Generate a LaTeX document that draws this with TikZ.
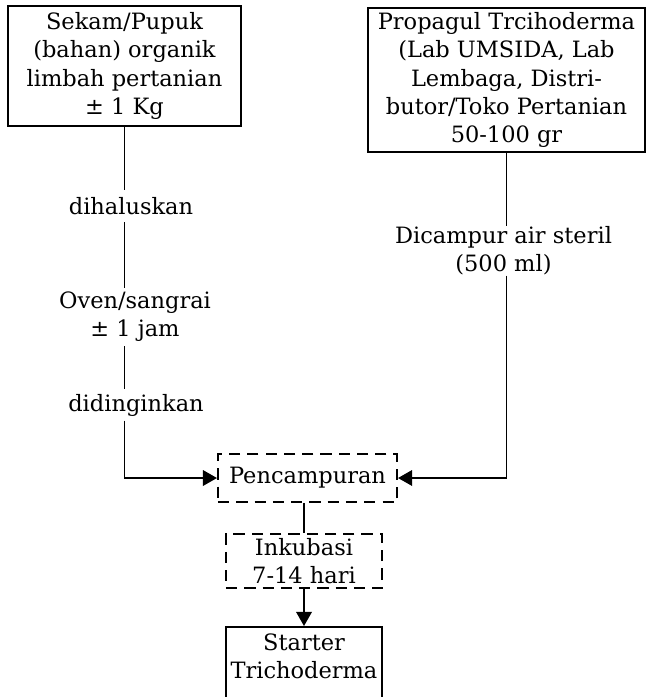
\documentclass[tikz,border=0pt]{standalone}
\usepackage{fontspec}
\setmainfont{DejaVu Serif}
\usepackage{tikz}
\usetikzlibrary{arrows.meta,positioning,calc}

\begin{document}
\begin{tikzpicture}[
    x=0.025cm, y=-0.025cm,
    txt/.style={font=\fontsize{16}{20}\selectfont, align=center},
    box/.style={txt, draw=black, line width=1.4pt, inner sep=2pt},
    dashbox/.style={box, dash pattern=on 8pt off 5pt},
    lbl/.style={txt, inner xsep=2pt},
    line/.style={line width=1.4pt, draw=black},
    arrow/.style={line, -{Triangle[length=10pt, width=11pt]}}
  ]
    \useasboundingbox (0,0) rectangle (646,697);
    % sources
    \node[box, minimum width=5.825cm, minimum height=3.0cm] (bahan) at (124.5,66) {Sekam/Pupuk\\(bahan) organik\\limbah pertanian\\± 1 Kg};
    \node[box, minimum width=6.925cm, minimum height=3.6cm] (propagul) at (506.5,80) {Propagul Trcihoderma\\(Lab UMSIDA, Lab\\Lembaga, Distri-\\butor/Toko Pertanian\\50-100 gr};
    % steps on the left branch
    \node[lbl, inner ysep=5pt] (halus) at (131,206) {dihaluskan};
    \node[lbl, inner ysep=3pt] (oven) at (135,317) {Oven/sangrai\\± 1 jam};
    \node[lbl, inner ysep=3pt] (dingin) at (136,405) {didinginkan};
    % step on the right branch
    \node[lbl, inner ysep=0pt] (dicampur) at (503.5,251) {Dicampur air steril\\(500 ml)};
    % mixing and incubation
    \node[dashbox, minimum width=4.475cm, minimum height=1.2cm] (campur) at (307.5,478) {Pencampuran};
    \node[dashbox, minimum width=3.9cm, minimum height=1.35cm] (inkubasi) at (304,561) {Inkubasi\\7-14 hari};
    \node[box, minimum width=3.9cm, anchor=north, inner ysep=5pt, text depth=1.3cm] (starter) at (304,626) {Starter\\Trichoderma};
    \draw[line] (bahan.south) -- (bahan.south |- halus.north);
    \draw[line] (bahan.south |- halus.south) -- (bahan.south |- oven.north);
    \draw[line] (bahan.south |- oven.south) -- (bahan.south |- dingin.north);
    \draw[arrow] (bahan.south |- dingin.south) |- (campur.west);
    \draw[line] (propagul.south) -- (propagul.south |- dicampur.north);
    \draw[arrow] (propagul.south |- dicampur.south) |- (campur.east);
    \draw[line] (campur.south -| inkubasi.north) -- (inkubasi.north);
    \draw[arrow] (inkubasi.south) -- (starter.north);
  \end{tikzpicture}
\end{document}
